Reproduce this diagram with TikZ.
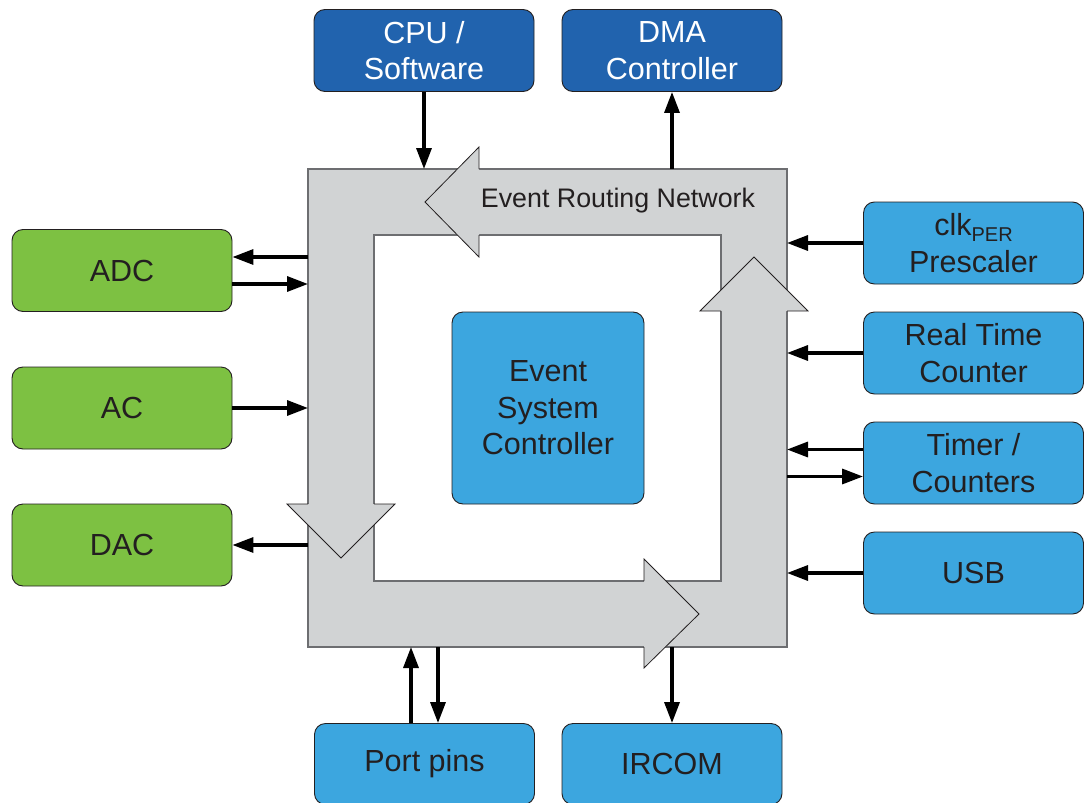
\documentclass[tikz,border=0pt]{standalone}
\usepackage{fontspec}
\setmainfont{Liberation Sans}
\usetikzlibrary{arrows.meta}
\definecolor{netgray}{HTML}{D1D3D4}
\definecolor{netline}{HTML}{6D6E71}
\definecolor{darkblue}{HTML}{2163AE}
\definecolor{lightblue}{HTML}{3CA6DF}
\definecolor{analoggreen}{HTML}{7DC142}
\definecolor{inkgray}{HTML}{231F20}
\tikzset{
  unit/.style={draw=inkgray, line width=0.9pt, rounded corners=11pt, minimum width=220pt,
    minimum height=82pt, inner sep=0pt, align=center, text=inkgray,
    font=\fontsize{30.5}{36.5}\selectfont},
  master/.style={unit, fill=darkblue, text=white},
  periph/.style={unit, fill=lightblue},
  analog/.style={unit, fill=analoggreen},
  sig/.style={line width=3.3pt, -{Triangle[length=21pt,width=15pt]}},
  headline/.style={draw=inkgray, line width=0.8pt, line join=miter},
}
\begin{document}
\begin{tikzpicture}[x=1pt,y=-1pt]
            \useasboundingbox (0,0) rectangle (1087,803);
            \def\d{13.5}
            % routing frame
            \fill[netgray,even odd rule] (308,169) rectangle (787,647) (374,235) rectangle (721,581);
            \draw[netline,line width=1.4pt] (308,169) rectangle (787,647) (374,235) rectangle (721,581);
            \fill[netgray] (479,147) -- (425,202) -- (479,257) -- cycle;
            \fill[netgray] (287,504) -- (341,558) -- (395,504) -- cycle;
            \fill[netgray] (644,559) -- (699,614) -- (644,668) -- cycle;
            \fill[netgray] (700,311) -- (754,257) -- (808,311) -- cycle;
            \draw[headline] (479,169) -- (479,147) -- (425,202) -- (479,257) -- (479,235);
            \draw[headline] (308,504) -- (287,504) -- (341,558) -- (395,504) -- (374,504);
            \draw[headline] (644,581) -- (644,559) -- (699,614) -- (644,668) -- (644,647);
            \draw[headline] (721,311) -- (700,311) -- (754,257) -- (808,311) -- (787,311);
            \node[inner sep=0pt,outer sep=0pt,minimum width=479pt,minimum height=478pt] (net) at (547.5,408) {};
            \node[text=inkgray,font=\fontsize{26.8}{30}\selectfont] (ern) at (618,201) {Event Routing Network};
            \node[periph] (esc) at (548,408) [minimum width=192pt,minimum height=192pt] {Event\\System\\Controller};
            % blocks
            \node[master] (cpu) at (424,50.5) {CPU /\\Software};
            \node[master] (dma) at (672,50.5) {DMA\\Controller};
            \node[analog] (adc) at (122,270.5) {ADC};
            \node[analog] (ac) at (122,408) {AC};
            \node[analog] (dac) at (122,545) {DAC};
            \node[periph] (clk) at (973.5,243) {clk\raisebox{-6pt}{\fontsize{20}{20}\selectfont PER}\\Prescaler};
            \node[periph] (rtc) at (973.5,353) {Real Time\\Counter};
            \node[periph] (tc) at (973.5,463) {Timer /\\Counters};
            \node[periph] (usb) at (973.5,573) {USB};
            \node[periph] (pins) at (424.5,764) [minimum height=81pt] {Port pins};
            \node[periph] (ircom) at (672,764) [minimum height=81pt] {IRCOM};
            % event lines
            \draw[sig] (cpu) -- (cpu |- net.north);
            \draw[sig] (dma |- net.north) -- (dma);
            \draw[sig] ([yshift=\d pt]adc.east -| net.west) -- ([yshift=\d pt]adc.east);
            \draw[sig] ([yshift=-\d pt]adc.east) -- ([yshift=-\d pt]adc.east -| net.west);
            \draw[sig] (ac) -- (ac -| net.west);
            \draw[sig] (dac -| net.west) -- (dac);
            \draw[sig] (clk) -- (clk -| net.east);
            \draw[sig] (rtc) -- (rtc -| net.east);
            \draw[sig] ([yshift=\d pt]tc.west) -- ([yshift=\d pt]tc.west -| net.east);
            \draw[sig] ([yshift=-\d pt]tc.west -| net.east) -- ([yshift=-\d pt]tc.west);
            \draw[sig] (usb) -- (usb -| net.east);
            \draw[sig] ([xshift=-\d pt]pins.north) -- ([xshift=-\d pt]pins.north |- net.south);
            \draw[sig] ([xshift=\d pt]pins.north |- net.south) -- ([xshift=\d pt]pins.north);
            \draw[sig] (ircom |- net.south) -- (ircom);
            \end{tikzpicture}
\end{document}
